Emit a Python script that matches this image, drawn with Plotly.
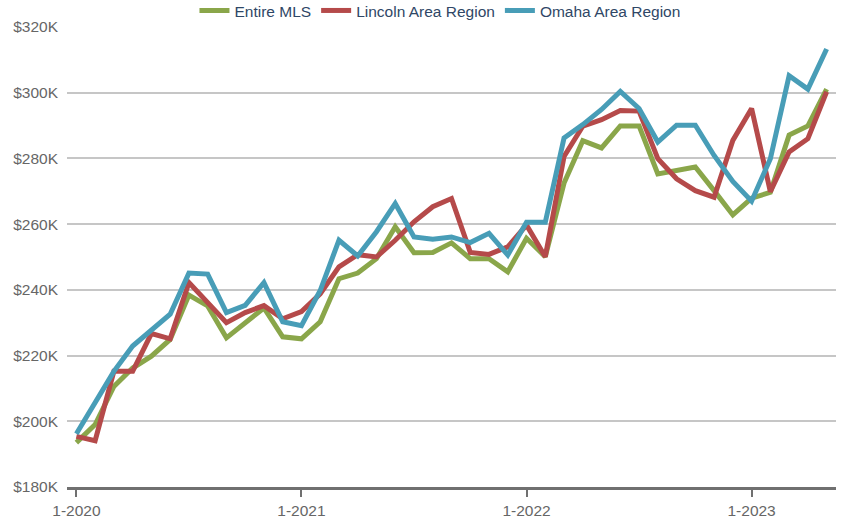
import plotly.graph_objects as go

# Month categories Jan 2020 .. May 2023
months = [f"{m}-{y}" for y in range(2020, 2024) for m in range(1, 13)][:41]
tick_labels = ["1-2020", "1-2021", "1-2022", "1-2023"]
y_ticks = [180, 200, 220, 240, 260, 280, 300, 320]
y_tick_text = ["$180K", "$200K", "$220K", "$240K", "$260K", "$280K", "$300K", "$320K"]

entire_mls = [193.5, 199.0, 210.6, 216.2, 219.8, 224.9, 238.4, 235.1, 225.4, 230.0,
              234.5, 225.7, 225.1, 230.3, 243.4, 245.1, 249.5, 259.2, 251.3, 251.4,
              254.3, 249.5, 249.5, 245.5, 255.7, 250.1, 272.5, 285.4, 283.2, 289.9,
              289.9, 275.3, 276.4, 277.4, 270.2, 262.8, 267.9, 269.7, 287.1, 289.9,
              301.1]
lincoln = [195.4, 194.1, 215.2, 215.2, 226.7, 225.1, 242.2, 236.1, 230.0, 233.1,
           235.2, 231.2, 233.4, 238.8, 247.0, 250.7, 250.0, 255.1, 260.7, 265.3,
           267.8, 251.4, 250.8, 253.1, 259.7, 250.1, 280.6, 289.8, 291.8, 294.6,
           294.4, 279.9, 273.8, 270.2, 268.2, 285.5, 295.2, 269.9, 282.0, 286.0,
           300.3]
omaha = [196.2, 205.7, 215.2, 222.9, 228.0, 232.6, 245.1, 244.8, 233.1, 235.3,
         242.2, 230.3, 229.1, 239.8, 255.1, 250.3, 257.7, 266.3, 256.1, 255.4,
         256.1, 254.4, 257.2, 250.6, 260.6, 260.6, 286.2, 290.3, 294.9, 300.4,
         295.2, 285.0, 290.1, 290.1, 280.9, 273.0, 267.0, 279.9, 305.2, 301.1,
         313.3]

series = [
    ("Entire MLS", entire_mls, "#8aa64a"),
    ("Lincoln Area Region", lincoln, "#b54a4a"),
    ("Omaha Area Region", omaha, "#489db7"),
]

fig = go.Figure()
for name, vals, color in series:
    fig.add_trace(go.Scatter(x=months, y=vals, mode="lines", name=name,
                             line=dict(color=color, width=5)))

font_family = "Liberation Sans, Arial, sans-serif"
fig.update_layout(
    width=859, height=518,
    margin=dict(l=67, r=23, t=27, b=31, autoexpand=False),
    paper_bgcolor="white", plot_bgcolor="white",
    font=dict(family=font_family, size=15.5, color="#666666"),
    showlegend=True,
    legend=dict(orientation="h", x=0.485, xanchor="center", y=1.072, yanchor="top",
                font=dict(family=font_family, size=15.5, color="#2f4766"),
                bgcolor="rgba(0,0,0,0)", itemwidth=30),
    xaxis=dict(type="category", range=[-0.5, 40.5], tickmode="array",
               tickvals=tick_labels, ticktext=tick_labels, automargin=False,
               showgrid=False, showline=True, linecolor="#707070", linewidth=3,
               ticks="outside", ticklen=7, tickwidth=2, tickcolor="#707070",
               tickfont=dict(size=15.5, color="#666666"), zeroline=False),
    yaxis=dict(range=[180, 320], tickmode="array", tickvals=y_ticks, ticktext=y_tick_text,
               showgrid=True, gridcolor="#c6c6c6", gridwidth=2, zeroline=False,
               showline=False, ticks="", ticklabelstandoff=8, automargin=False,
               tickfont=dict(size=15.5, color="#666666")),
)

fig.write_html("out.html", config={"displayModeBar": False})
